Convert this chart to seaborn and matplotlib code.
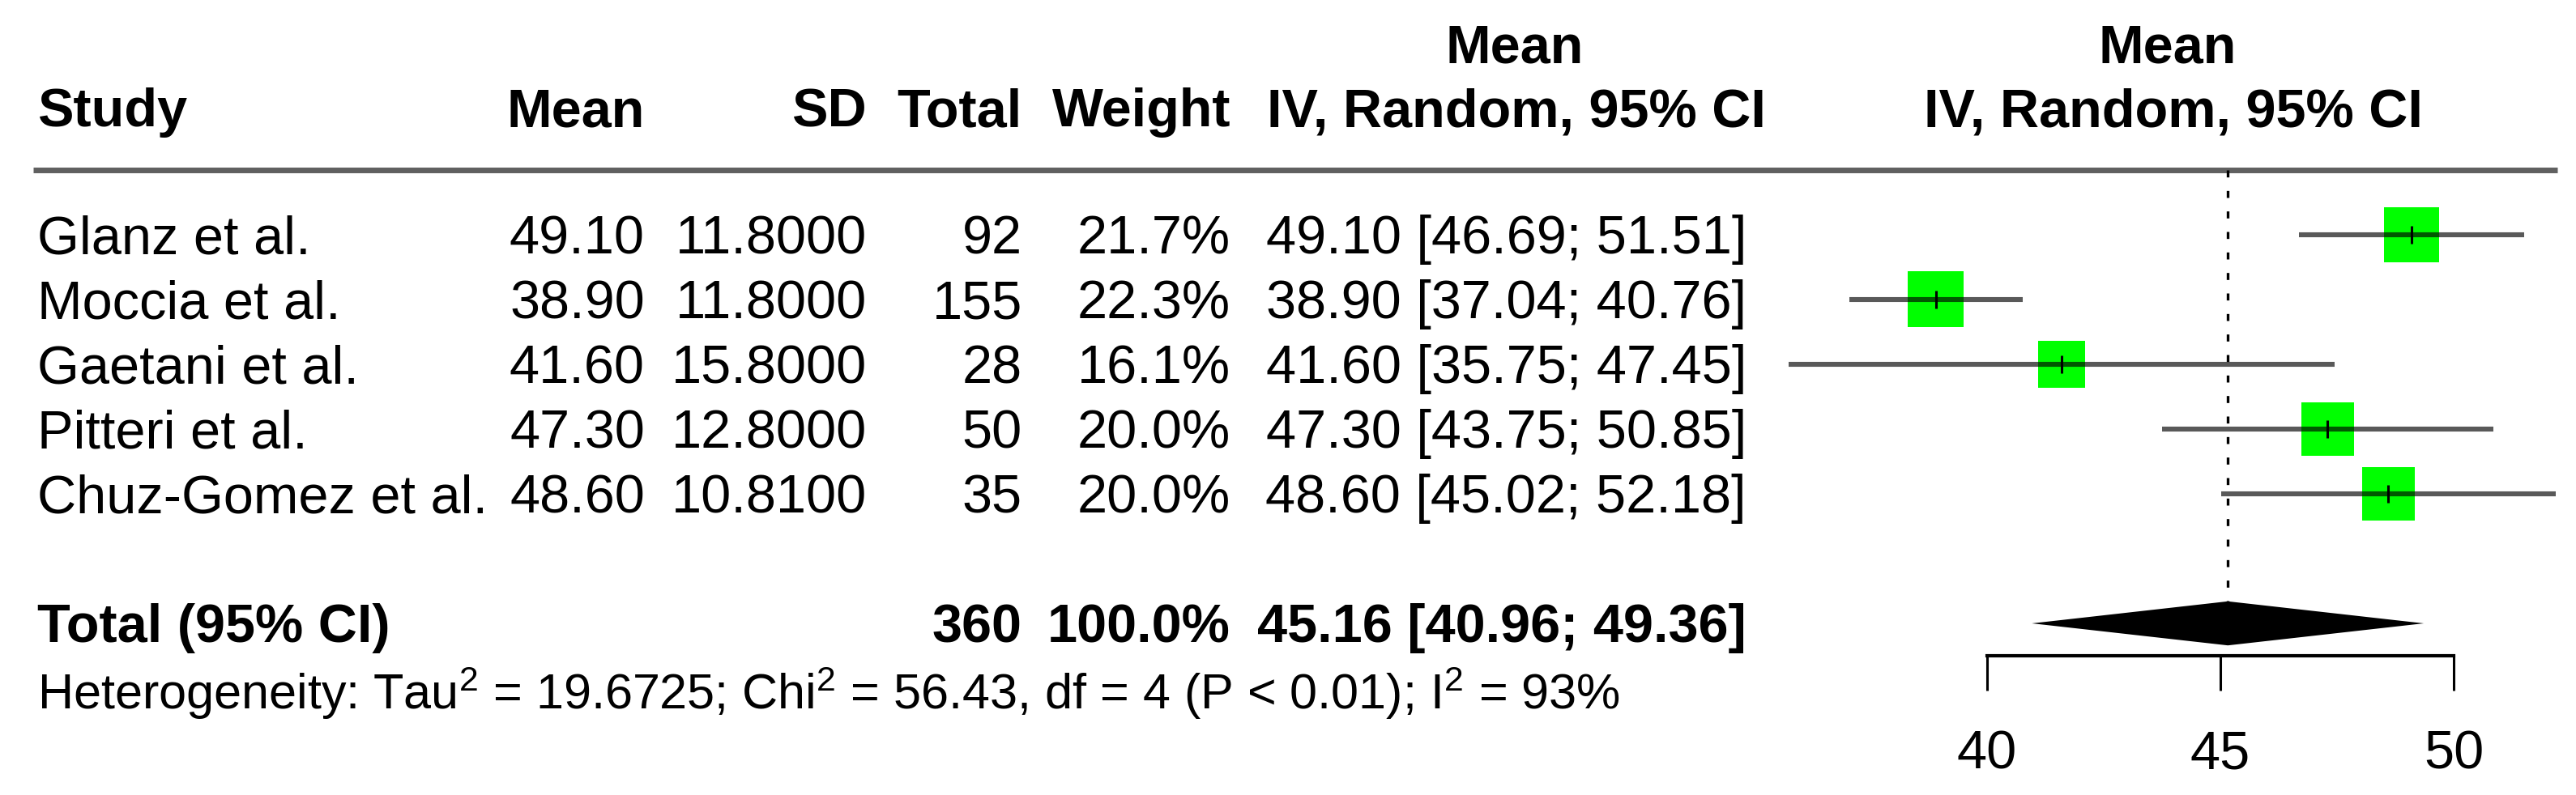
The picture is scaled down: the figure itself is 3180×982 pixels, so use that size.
import numpy as np
import pandas as pd
import matplotlib
matplotlib.use("Agg")
import matplotlib.pyplot as plt
import seaborn as sns

# ---------------- data ----------------
studies = ["Glanz et al.", "Moccia et al.", "Gaetani et al.", "Pitteri et al.", "Chuz-Gomez et al."]
means = [49.10, 38.90, 41.60, 47.30, 48.60]
sds = [11.8000, 11.8000, 15.8000, 12.8000, 10.8100]
totals = [92, 155, 28, 50, 35]
weights = [21.7, 22.3, 16.1, 20.0, 20.0]
ci_low = [46.69, 37.04, 35.75, 43.75, 45.02]
ci_high = [51.51, 40.76, 47.45, 50.85, 52.18]

pooled_total = 360
pooled_weight = 100.0
pooled_mean = 45.16
pooled_low = 40.96
pooled_high = 49.36

tau2 = "19.6725"
chi2 = "56.43"
df_het = 4
p_text = "P < 0.01"
i2 = 93
xticks = [40, 45, 50]

# ---------------- style ----------------
sns.set_theme(style="white")
plt.rcParams["font.family"] = ["Liberation Sans", "DejaVu Sans"]
plt.rcParams["mathtext.fontset"] = "custom"
plt.rcParams["mathtext.rm"] = "Liberation Sans"
plt.rcParams["mathtext.it"] = "Liberation Sans"
plt.rcParams["mathtext.default"] = "regular"

W, H = 3180, 982
DPI = 100
PX = DPI / 72.0  # pixels per point
FS = 48
FS_SMALL = 44
GREEN = "#00FF00"

fig = plt.figure(figsize=(W / DPI, H / DPI), dpi=DPI)
fig.patch.set_facecolor("white")

YLIM = (8.65, -3.625)

# table axes (x in pixels)
tab = fig.add_axes([0, 0, 1, 1])
tab.set_xlim(0, W)
tab.set_ylim(*YLIM)
tab.axis("off")

# forest axes (x in data units)
px_per_unit = 57.6
x45 = 2741
fst = fig.add_axes([0, 0, 1, 1])
fst.patch.set_alpha(0)

rows = np.arange(len(studies))
df = pd.DataFrame({"study": studies, "mean": means, "row": rows, "w": weights,
                   "lo": ci_low, "hi": ci_high})

side_px = 69 * np.sqrt(np.array(weights) / max(weights))
sizes = (side_px / PX) ** 2

sns.scatterplot(data=df, x="mean", y="row", marker="s", s=sizes, color=GREEN,
                linewidth=0, ax=fst, zorder=2, legend=False)
fst.hlines(df["row"], df["lo"], df["hi"], color="black", alpha=0.65, lw=4.4, zorder=3)
fst.scatter(df["mean"], df["row"], marker="|", s=(22 / PX) ** 2, color="black",
            linewidths=2.2, zorder=4)

total_row = 6
dh = 0.34
fst.fill([pooled_low, pooled_mean, pooled_high, pooled_mean],
         [total_row, total_row - dh, total_row, total_row + dh], color="black", lw=0, zorder=3)
fst.vlines(pooled_mean, -1, total_row - dh, colors="black", linestyles=(0, (2.6, 5.0)), lw=2.4, zorder=1)

fst.set_xlim(45 - x45 / px_per_unit, 45 + (W - x45) / px_per_unit)
fst.set_ylim(*YLIM)
fst.set_xlabel("")
fst.set_ylabel("")
for s in ["top", "left", "right"]:
    fst.spines[s].set_visible(False)
fst.spines["bottom"].set_position(("data", 6.5))
fst.spines["bottom"].set_bounds(min(xticks), max(xticks))
fst.spines["bottom"].set_linewidth(3)
fst.spines["bottom"].set_color("black")
fst.set_xticks(xticks)
fst.set_xticklabels([str(t) for t in xticks])
fst.set_yticks([])
fst.tick_params(axis="x", direction="out", length=43 / PX, width=2.2, labelsize=FS,
                pad=35, colors="black", bottom=True)

# ---------------- table text ----------------
BO = 0.29  # baseline offset (row units)

def put(x, y, s, ha="right", bold=False, size=FS):
    tab.text(x, y + BO, s, ha=ha, va="baseline", fontsize=size,
             fontweight="bold" if bold else "normal", color="black")

col_mean, col_sd, col_tot, col_w, col_ci = 796, 1070, 1262, 1519, 2156
h1, h2 = -2.94, -1.96

put(46, h2, "Study", ha="left", bold=True)
put(col_mean, h2, "Mean", bold=True)
put(col_sd, h2, "SD", bold=True)
put(col_tot, h2, "Total", bold=True)
put(col_w, h2, "Weight", bold=True)
put(1870, h1, "Mean", ha="center", bold=True)
put(1872, h2, "IV, Random, 95% CI", ha="center", bold=True)
put(2676, h1, "Mean", ha="center", bold=True)
put(2683, h2, "IV, Random, 95% CI", ha="center", bold=True)

tab.hlines(-1, 41, 3157, color="#606060", lw=5)

for i, st in enumerate(studies):
    put(46, i, st, ha="left")
    put(col_mean, i, f"{means[i]:.2f}")
    put(col_sd, i, f"{sds[i]:.4f}")
    put(col_tot, i, f"{totals[i]}")
    put(col_w, i, f"{weights[i]:.1f}%")
    put(col_ci, i, f"{means[i]:.2f} [{ci_low[i]:.2f}; {ci_high[i]:.2f}]")

put(46, total_row, "Total (95% CI)", ha="left", bold=True)
put(col_tot, total_row, f"{pooled_total}", bold=True)
put(col_w, total_row, f"{pooled_weight:.1f}%", bold=True)
put(col_ci, total_row, f"{pooled_mean:.2f} [{pooled_low:.2f}; {pooled_high:.2f}]", bold=True)

het = (f"Heterogeneity: Tau$^2$ = {tau2}; Chi$^2$ = {chi2}, df = {df_het} "
       f"({p_text}); I$^2$ = {i2}%")
put(46, 7.03, het, ha="left", size=FS_SMALL)

fig.savefig("out.png", dpi=DPI, facecolor="white")
